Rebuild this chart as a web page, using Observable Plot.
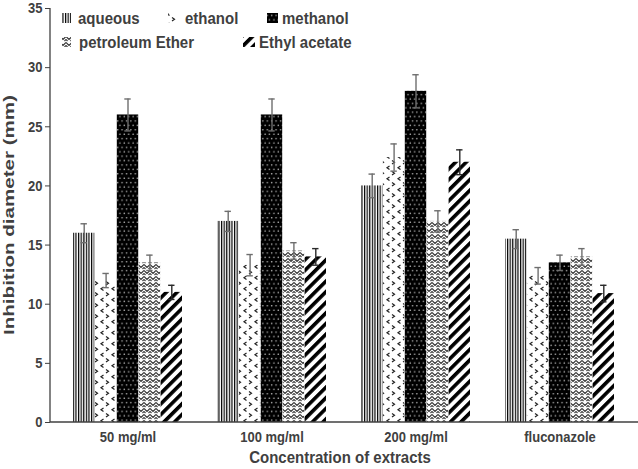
<!DOCTYPE html>
<html><head><meta charset="utf-8">
<script src="https://cdn.jsdelivr.net/npm/d3@7"></script>
<script src="https://cdn.jsdelivr.net/npm/@observablehq/plot@0.6"></script>
<style>
html,body{margin:0;padding:0;background:#fff;}
#chart svg{display:block;}
</style></head><body><div id="chart"></div>
<script>
const groups = ["50 mg/ml", "100 mg/ml", "200 mg/ml", "fluconazole"];
const series = ["aqueous", "ethanol", "methanol", "petroleum Ether", "Ethyl acetate"];
const aqueous   = [16, 17, 20, 15.5];
const ethanol   = [12, 13.3, 22.4, 12.4];
const methanol  = [26, 26, 28, 13.5];
const petroleum = [13.5, 14.5, 17, 14];
const ethyl     = [11, 14, 22, 10.9];
const aqueousErr   = [0.8, 0.85, 1.0, 0.8];
const ethanolErr   = [0.6, 0.9, 1.15, 0.7];
const methanolErr  = [1.35, 1.35, 1.4, 0.65];
const petroleumErr = [0.65, 0.7, 0.9, 0.7];
const ethylErr     = [0.6, 0.7, 1.05, 0.7];
const yTicks = [0, 5, 10, 15, 20, 25, 30, 35];

const values = [aqueous, ethanol, methanol, petroleum, ethyl];
const errors = [aqueousErr, ethanolErr, methanolErr, petroleumErr, ethylErr];

const W = 638, H = 469, ML = 50, MR = 0, MT = 8, MB = 47;
const xOpts = {type: "band", domain: groups, paddingInner: 0.243, paddingOuter: 0.154};
const xs = Plot.scale({x: {...xOpts, range: [ML, W - MR]}});
const bw = xs.bandwidth;
const w = bw / series.length;

const font = "'Liberation Sans', Arial, Helvetica, sans-serif";
const marks = [];
series.forEach((s, j) => {
  const data = groups.map((g, i) => ({group: g, series: s, value: values[j][i], err: errors[j][i]}));
  const stroke = s === "Ethyl acetate" ? "#2a2a2a" : "#6e6e6e";
  const dx = (j + 0.5) * w - bw / 2;
  marks.push(
    Plot.barY(data, {x: "group", y: "value", fill: "url(#pat" + j + ")", insetLeft: j * w, insetRight: (series.length - 1 - j) * w}),
    Plot.ruleX(data, {x: "group", y1: d => d.value - d.err, y2: d => d.value + d.err, dx, stroke, strokeWidth: 1.4}),
    Plot.tickY(data, {x: "group", y: d => d.value + d.err, insetLeft: j * w + 7.5, insetRight: (series.length - 1 - j) * w + 7.5, stroke, strokeWidth: 1.4}),
    Plot.tickY(data, {x: "group", y: d => d.value - d.err, insetLeft: j * w + 7.5, insetRight: (series.length - 1 - j) * w + 7.5, stroke, strokeWidth: 1.4})
  );
});

const chart = Plot.plot({
  width: W, height: H,
  marginLeft: ML, marginRight: MR, marginTop: MT, marginBottom: MB,
  style: {fontFamily: font, fontSize: "13px", fontWeight: "bold", color: "#404040", background: "white", overflow: "visible"},
  x: {...xOpts, label: null, tickSize: 0, tickPadding: 9},
  y: {domain: [0, 35], ticks: yTicks, tickSize: 5, tickPadding: 3, label: null},
  marks
});
document.getElementById("chart").appendChild(chart);

const svg = d3.select(chart);
const y = chart.scale("y");
const stretch = " scale(1,1.15)";
svg.selectAll('g[aria-label="y-axis tick label"] text').each(function() {
  const t = this.getAttribute("transform") || "";
  this.setAttribute("transform", t + stretch);
});
svg.selectAll('g[aria-label="x-axis tick label"] text').each(function() {
  const t = this.getAttribute("transform") || "";
  this.setAttribute("transform", t + stretch);
});
const defs = svg.insert("defs", ":first-child");
// aqueous: vertical lines
let p = defs.append("pattern").attr("id", "pat0").attr("patternUnits", "userSpaceOnUse").attr("width", 2.6).attr("height", 10);
p.append("rect").attr("width", 2.6).attr("height", 10).attr("fill", "#fff");
p.append("rect").attr("width", 1.2).attr("height", 10).attr("fill", "#000");
// ethanol: sparse chevrons
p = defs.append("pattern").attr("id", "pat1").attr("patternUnits", "userSpaceOnUse").attr("width", 11).attr("height", 11);
p.append("rect").attr("width", 11).attr("height", 11).attr("fill", "#fff");
p.append("path").attr("d", "M4.5,1 L2,2.75 L4.5,4.5 M7,6.5 L9.5,8.25 L7,10").attr("stroke", "#222").attr("stroke-width", 1.2).attr("fill", "none");
// methanol: black with light dots
p = defs.append("pattern").attr("id", "pat2").attr("patternUnits", "userSpaceOnUse").attr("width", 4.4).attr("height", 8.8);
p.append("rect").attr("width", 4.4).attr("height", 8.8).attr("fill", "#000");
p.append("circle").attr("cx", 1.1).attr("cy", 2.2).attr("r", 0.8).attr("fill", "#bbb");
p.append("circle").attr("cx", 3.3).attr("cy", 6.6).attr("r", 0.8).attr("fill", "#bbb");
// petroleum ether: woven zigzag
p = defs.append("pattern").attr("id", "pat3").attr("patternUnits", "userSpaceOnUse").attr("width", 6).attr("height", 6);
p.append("rect").attr("width", 6).attr("height", 6).attr("fill", "#fff");
p.append("path").attr("d", "M0,0.5 L3,3.5 L6,0.5 M0,3.5 L1.5,5 M4.5,5 L6,3.5").attr("stroke", "#333").attr("stroke-width", 1.1).attr("fill", "none");
// ethyl acetate: thick diagonal stripes
p = defs.append("pattern").attr("id", "pat4").attr("patternUnits", "userSpaceOnUse").attr("width", 7.5).attr("height", 7.5).attr("patternTransform", "rotate(45)");
p.append("rect").attr("width", 7.5).attr("height", 7.5).attr("fill", "#fff");
p.append("rect").attr("width", 3.6).attr("height", 7.5).attr("fill", "#000");

// axis lines
svg.append("line").attr("x1", ML).attr("x2", W - MR).attr("y1", y.apply(0)).attr("y2", y.apply(0)).attr("stroke", "#404040").attr("stroke-width", 1.3);
svg.append("line").attr("x1", ML).attr("x2", ML).attr("y1", y.apply(35)).attr("y2", y.apply(0)).attr("stroke", "#404040").attr("stroke-width", 1.3);

// axis titles
svg.append("text").text("Concentration of extracts")
  .attr("transform", "translate(" + ((ML + W - MR) / 2 - 4) + ",463)" + stretch).attr("text-anchor", "middle")
  .style("font-size", "15px").attr("font-weight", "bold").attr("fill", "#404040").attr("font-family", font);
svg.append("text").text("Inhibition diameter (mm)")
  .attr("transform", "translate(14," + ((y.apply(0) + y.apply(35)) / 2) + ") rotate(-90)")
  .attr("text-anchor", "middle").attr("textLength", 240).attr("lengthAdjust", "spacingAndGlyphs")
  .style("font-size", "14px").attr("font-weight", "bold").attr("fill", "#404040").attr("font-family", font);

// legend
const legendItems = [
  {i: 0, sx: 62, sy: 13, sw: 9, tx: 78, ty: 24},
  {i: 1, sx: 168, sy: 13, sw: 8, tx: 185, ty: 24},
  {i: 2, sx: 267, sy: 13, sw: 11, tx: 282, ty: 24},
  {i: 3, sx: 62, sy: 37, sw: 9, tx: 79, ty: 48},
  {i: 4, sx: 243, sy: 37, sw: 12, tx: 259, ty: 48}
];
const lg = svg.append("g").attr("text-anchor", "start");
legendItems.forEach(it => {
  lg.append("rect").attr("x", it.sx).attr("y", it.sy).attr("width", it.sw).attr("height", 10).attr("fill", "url(#pat" + it.i + ")");
  lg.append("text").text(series[it.i]).attr("transform", "translate(" + it.tx + "," + it.ty + ")" + stretch).attr("text-anchor", "start")
    .style("font-size", "15px").attr("font-weight", "bold").attr("fill", "#404040").attr("font-family", font);
});
</script></body></html>
